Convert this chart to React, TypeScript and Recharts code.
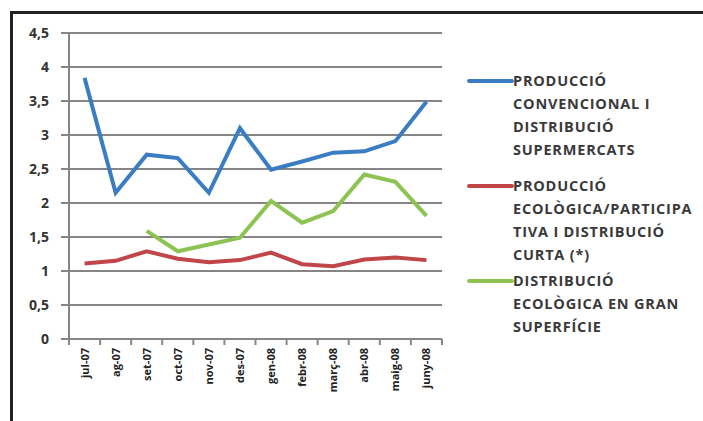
import React from 'react';
import { LineChart, Line, XAxis, YAxis, CartesianGrid } from 'recharts';

const months = ['jul-07', 'ag-07', 'set-07', 'oct-07', 'nov-07', 'des-07', 'gen-08', 'febr-08', 'març-08', 'abr-08', 'maig-08', 'juny-08'];
const conventional = [3.84, 2.15, 2.71, 2.66, 2.15, 3.1, 2.49, 2.61, 2.74, 2.76, 2.91, 3.49];
const ecoShort = [1.11, 1.15, 1.29, 1.18, 1.13, 1.16, 1.27, 1.1, 1.07, 1.17, 1.2, 1.16];
const ecoLarge: (number | null)[] = [null, null, 1.59, 1.29, 1.39, 1.49, 2.03, 1.71, 1.88, 2.42, 2.31, 1.81];
const yTicks = [0, 0.5, 1, 1.5, 2, 2.5, 3, 3.5, 4, 4.5];

const seriesNames = [
  ['PRODUCCIÓ', 'CONVENCIONAL I', 'DISTRIBUCIÓ', 'SUPERMERCATS'],
  ['PRODUCCIÓ', 'ECOLÒGICA/PARTICIPA', 'TIVA I DISTRIBUCIÓ', 'CURTA (*)'],
  ['DISTRIBUCIÓ', 'ECOLÒGICA EN GRAN', 'SUPERFÍCIE'],
];
const seriesKeys = ['conv', 'short', 'large'];
const seriesColors = ['#3a7dc2', '#c0464a', '#8dc353'];

const data = months.map((m, i) => ({
  month: m,
  conv: conventional[i],
  short: ecoShort[i],
  large: ecoLarge[i],
}));

const PLOT_LEFT = 69;
const PLOT_RIGHT = 442;
const PLOT_TOP = 33;
const PLOT_BOTTOM = 339;
const HALF = (PLOT_RIGHT - PLOT_LEFT) / months.length / 2;
const FONT = '"Open Sans", "DejaVu Sans", sans-serif';

const XTick = (props: any) => {
  const { x, y, payload, index } = props;
  return (
    <g>
      <line x1={x - HALF} x2={x - HALF} y1={y} y2={y + 6} stroke="#888" strokeWidth={2} />
      {index === months.length - 1 && (
        <line x1={x + HALF} x2={x + HALF} y1={y} y2={y + 6} stroke="#888" strokeWidth={2} />
      )}
      <text
        x={0}
        y={0}
        transform={`translate(${x + 4},${y + 9}) rotate(-90)`}
        textAnchor="end"
        fontSize={11}
        fontWeight={700}
        fill="#222"
        fontFamily={FONT}
      >
        {payload.value}
      </text>
    </g>
  );
};

const legendTops = [81, 186, 281];
const LINE_GAP = 23;

export default function App() {
  return (
    <div style={{ position: 'absolute', left: 0, top: 0, width: 703, height: 421, background: '#fff', overflow: 'hidden' }}>
      <div
        style={{
          position: 'absolute',
          left: 10,
          top: 11,
          width: 800,
          height: 500,
          borderTop: '3px solid #222',
          borderLeft: '3px solid #222',
        }}
      />
      <div style={{ position: 'absolute', left: 0, top: 0 }}>
        <LineChart
          width={703}
          height={421}
          data={data}
          margin={{ top: PLOT_TOP, right: 703 - PLOT_RIGHT, bottom: 0, left: PLOT_LEFT - 60 }}
        >
          <CartesianGrid horizontal vertical={false} stroke="#858585" strokeWidth={2} />
          <XAxis
            dataKey="month"
            height={421 - PLOT_BOTTOM}
            padding={{ left: HALF, right: HALF }}
            axisLine={{ stroke: '#858585', strokeWidth: 2 }}
            tickLine={false}
            tickSize={0}
            tickMargin={0}
            interval={0}
            tick={<XTick />}
          />
          <YAxis
            width={60}
            domain={[0, 4.5]}
            ticks={yTicks}
            interval={0}
            axisLine={{ stroke: '#858585', strokeWidth: 2 }}
            tickLine={{ stroke: '#858585', strokeWidth: 2 }}
            tickSize={8}
            tickMargin={12}
            tickFormatter={(v: number) => String(v).replace('.', ',')}
            tick={{ fontSize: 14, fontWeight: 700, fill: '#333', fontFamily: FONT }}
          />
          {seriesKeys.map((k, i) => (
            <Line
              key={k}
              type="linear"
              dataKey={k}
              stroke={seriesColors[i]}
              strokeWidth={4}
              dot={false}
              activeDot={false}
              isAnimationActive={false}
              connectNulls={false}
            />
          ))}
        </LineChart>
      </div>
      <svg style={{ position: 'absolute', left: 0, top: 0 }} width={703} height={421}>
        {seriesNames.map((lines, i) => (
          <g key={i}>
            <line
              x1={469}
              x2={512}
              y1={legendTops[i]}
              y2={legendTops[i]}
              stroke={seriesColors[i]}
              strokeWidth={4}
              strokeLinecap="round"
            />
            {lines.map((t, j) => (
              <text
                key={j}
                x={513}
                y={legendTops[i] + j * LINE_GAP + 5}
                fontSize={14.5}
                fontWeight={700}
                fill="#3a3a3a"
                fontFamily={FONT}
                letterSpacing={0.8}
              >
                {t}
              </text>
            ))}
          </g>
        ))}
      </svg>
    </div>
  );
}
